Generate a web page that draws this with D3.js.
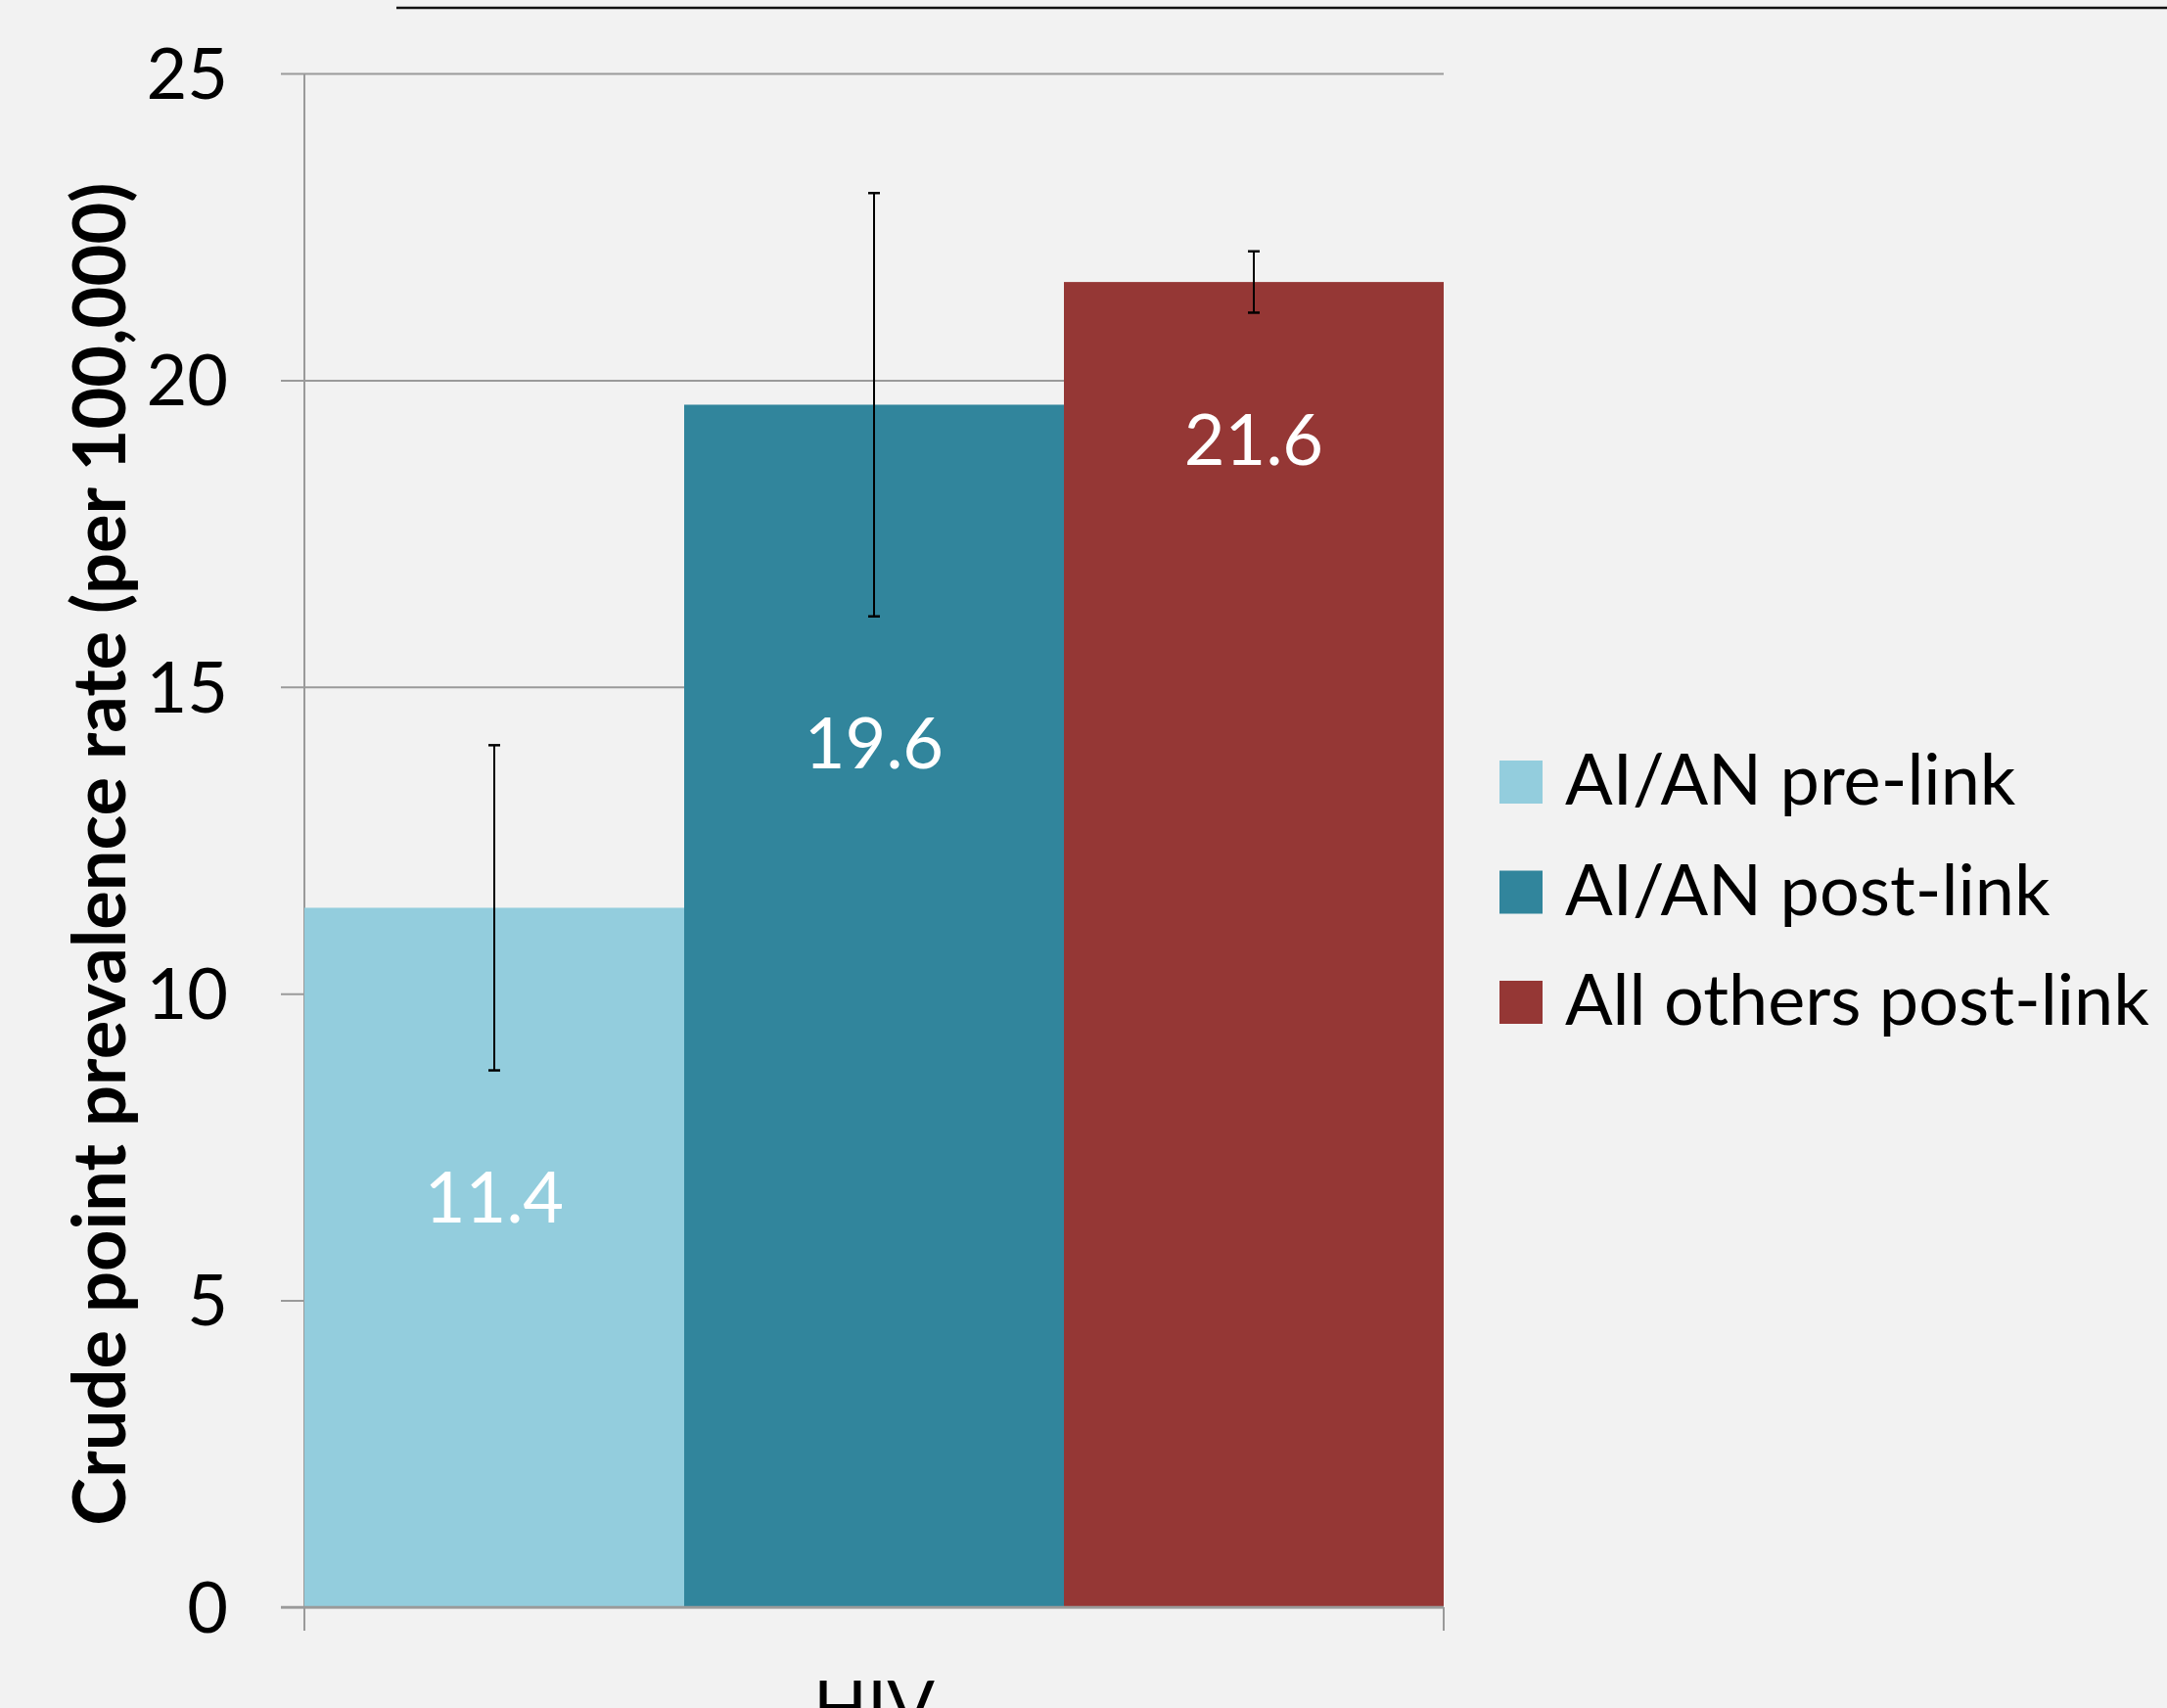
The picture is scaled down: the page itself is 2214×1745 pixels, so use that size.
<!DOCTYPE html>
<html>
<head>
<meta charset="utf-8">
<script src="https://cdn.jsdelivr.net/npm/d3@7"></script>
<style>
  html, body { margin: 0; padding: 0; background: #f2f2f2; }
  svg { display: block; }
  svg text { font-family: Lato, "Open Sans", sans-serif; }
</style>
</head>
<body>
<svg id="chart" width="2214" height="1745"></svg>
<script>
// chart values
var categories = ['HIV'];
var seriesNames = ['AI/AN pre-link', 'AI/AN post-link', 'All others post-link'];
var values = [11.4, 19.6, 21.6];
var ciLow = [8.75, 16.15, 21.1];
var ciHigh = [14.05, 23.05, 22.1];
var yTicks = [0, 5, 10, 15, 20, 25];
var colors = ['#93cddd', '#31859c', '#953735'];

var svg = d3.select('#chart'),
    margin = {top: 75, right: 739, bottom: 103, left: 311},
    width = 2214 - margin.left - margin.right,
    height = 1745 - margin.top - margin.bottom,
    fontSize = 72;

svg.append('rect')
   .attr('width', 2214).attr('height', 1745)
   .attr('fill', '#f2f2f2');

// thin rule at the very top
svg.append('line')
   .attr('x1', 405).attr('x2', 2214)
   .attr('y1', 8).attr('y2', 8)
   .attr('stroke', '#111').attr('stroke-width', 2.5);

var g = svg.append('g')
           .attr('transform', 'translate(' + margin.left + ',' + margin.top + ')');

var x0 = d3.scaleBand().domain(categories).range([0, width]).padding(0);
var x1 = d3.scaleBand().domain(seriesNames).range([0, x0.bandwidth()]).padding(0);
var y = d3.scaleLinear().domain([0, 25]).range([height, 0]);

// gridlines + y ticks
var yAxis = d3.axisLeft(y)
              .tickValues(yTicks)
              .tickSize(-width - 24)
              .tickPadding(54)
              .tickFormat(d3.format('d'));

var ya = g.append('g')
          .attr('transform', 'translate(-24,0)')
          .call(yAxis)
          .attr('font-family', null);
ya.select('.domain').remove();
ya.selectAll('.tick line')
  .attr('stroke', '#9a9a9a')
  .attr('stroke-width', 2);
ya.selectAll('.tick text')
  .attr('fill', '#000')
  .style('font-size', fontSize + 'px')
  .attr('dy', '0.35em');

// vertical axis line
g.append('line')
 .attr('x1', 0).attr('x2', 0)
 .attr('y1', 0).attr('y2', height + 24)
 .attr('stroke', '#9a9a9a').attr('stroke-width', 2);

var groups = g.selectAll('.cat')
              .data(categories)
              .enter().append('g')
              .attr('class', 'cat')
              .attr('transform', function (c) { return 'translate(' + x0(c) + ',0)'; });

var bars = groups.selectAll('.bar')
                 .data(function () {
                   return seriesNames.map(function (s, i) {
                     return {name: s, value: values[i], lo: ciLow[i], hi: ciHigh[i], color: colors[i]};
                   });
                 })
                 .enter().append('g')
                 .attr('class', 'bar');

bars.append('rect')
    .attr('x', function (d) { return x1(d.name); })
    .attr('width', x1.bandwidth())
    .attr('y', function (d) { return y(d.value); })
    .attr('height', function (d) { return height - y(d.value); })
    .attr('fill', function (d) { return d.color; });

// error bars
function mid(d) { return x1(d.name) + x1.bandwidth() / 2; }

bars.append('line')
    .attr('x1', mid).attr('x2', mid)
    .attr('y1', function (d) { return y(d.lo); })
    .attr('y2', function (d) { return y(d.hi); })
    .attr('stroke', '#000').attr('stroke-width', 2);

['lo', 'hi'].forEach(function (k) {
  bars.append('line')
      .attr('x1', function (d) { return mid(d) - 6; })
      .attr('x2', function (d) { return mid(d) + 6; })
      .attr('y1', function (d) { return y(d[k]); })
      .attr('y2', function (d) { return y(d[k]); })
      .attr('stroke', '#000').attr('stroke-width', 2.5);
});

// value labels
bars.append('text')
    .attr('x', mid)
    .attr('y', function (d) { return y(d.lo) + 130; })
    .attr('dy', '0.35em')
    .attr('text-anchor', 'middle')
    .attr('fill', '#fff')
    .style('font-size', fontSize + 'px')
    .text(function (d) { return d.value.toFixed(1); });

// x axis base + ticks
g.append('line')
 .attr('x1', -24).attr('x2', width)
 .attr('y1', height).attr('y2', height)
 .attr('stroke', '#9a9a9a').attr('stroke-width', 2.5);

var xa = g.append('g')
          .attr('transform', 'translate(0,' + height + ')')
          .call(d3.axisBottom(x0).tickSize(0).tickPadding(76))
          .attr('font-family', null);
xa.select('.domain').remove();
xa.selectAll('.tick text')
  .attr('fill', '#000')
  .style('font-size', fontSize + 'px');

[0, width].forEach(function (px) {
  g.append('line')
   .attr('x1', px).attr('x2', px)
   .attr('y1', height).attr('y2', height + 24)
   .attr('stroke', '#9a9a9a').attr('stroke-width', 2);
});

// y axis title
svg.append('text')
   .attr('transform', 'translate(128,' + (margin.top + height / 2 + 14) + ') rotate(-90)')
   .attr('text-anchor', 'middle')
   .style('font-size', '74px')
   .style('font-weight', 'bold')
   .attr('fill', '#000')
   .text('Crude point prevalence rate (per 100,000)');

// legend
var legend = svg.append('g')
                .attr('transform', 'translate(1532,777)');

var items = legend.selectAll('.item')
                  .data(seriesNames)
                  .enter().append('g')
                  .attr('class', 'item')
                  .attr('transform', function (d, i) { return 'translate(0,' + (i * 112.5) + ')'; });

items.append('rect')
     .attr('width', 44).attr('height', 44)
     .attr('fill', function (d, i) { return colors[i]; });

items.append('text')
     .attr('x', 67)
     .attr('y', 45)
     .style('font-size', fontSize + 'px')
     .attr('fill', '#000')
     .text(function (d) { return d; });
</script>
</body>
</html>
